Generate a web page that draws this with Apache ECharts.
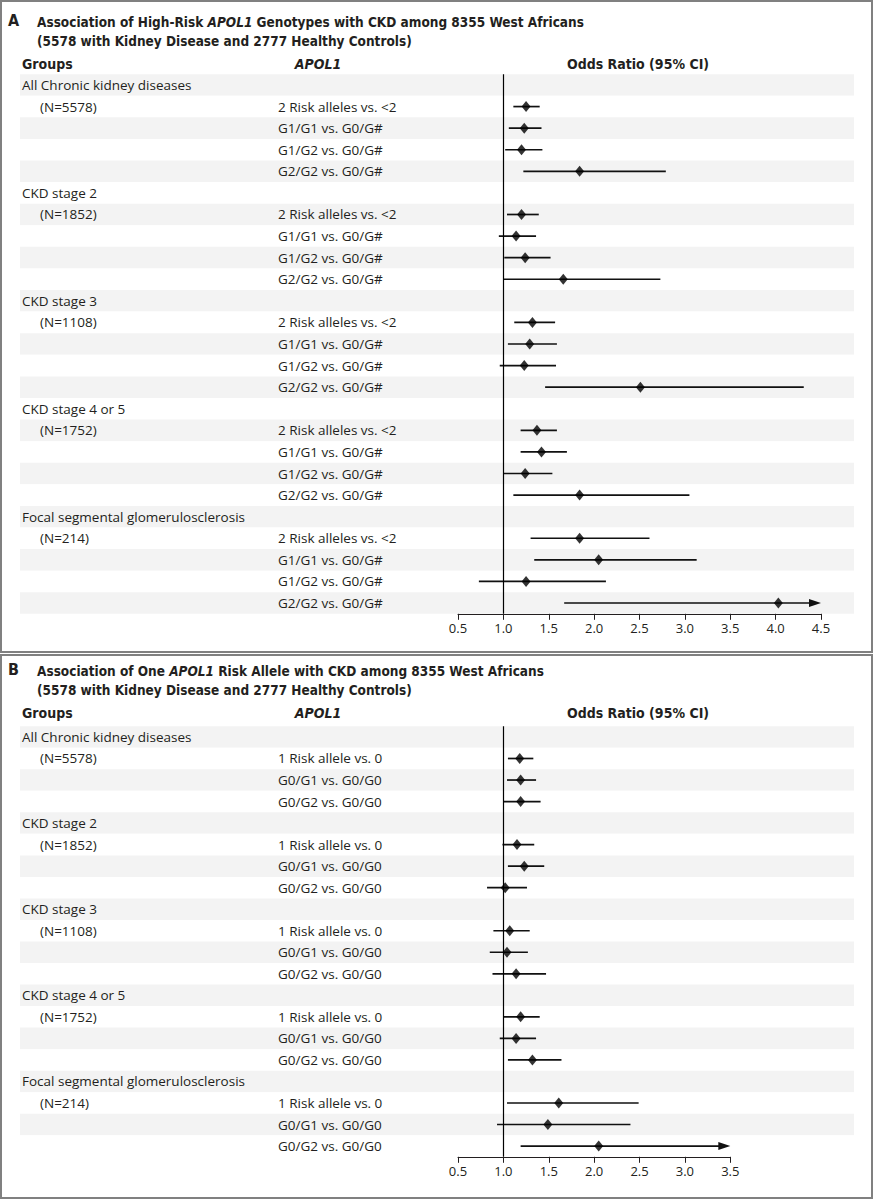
<!DOCTYPE html>
<html>
<head>
<meta charset="utf-8">
<script src="https://cdn.jsdelivr.net/npm/echarts@6/dist/echarts.min.js"></script>
<style>
html,body{margin:0;padding:0;background:#fff;}
#c{width:874px;height:1200px;}
</style>
</head>
<body>
<div id="c"></div>
<script>
// ---------- data ----------
const groups = ['All Chronic kidney diseases', 'CKD stage 2', 'CKD stage 3', 'CKD stage 4 or 5', 'Focal segmental glomerulosclerosis'];
const groupN = [5578, 1852, 1108, 1752, 214];

const compA = ['2 Risk alleles vs. <2', 'G1/G1 vs. G0/G#', 'G1/G2 vs. G0/G#', 'G2/G2 vs. G0/G#'];
const orA = [1.25, 1.23, 1.20, 1.84, 1.20, 1.14, 1.24, 1.66, 1.32, 1.29, 1.23, 2.51, 1.37, 1.42, 1.24, 1.84, 1.84, 2.05, 1.25, 4.03];
const loA = [1.11, 1.06, 1.02, 1.22, 1.04, 0.95, 1.01, 1.00, 1.12, 1.05, 0.96, 1.46, 1.19, 1.19, 1.00, 1.11, 1.30, 1.34, 0.73, 1.67];
const hiA = [1.40, 1.42, 1.43, 2.79, 1.39, 1.36, 1.52, 2.73, 1.57, 1.59, 1.58, 4.31, 1.59, 1.70, 1.54, 3.05, 2.61, 3.13, 2.13, null]; // null = beyond axis (arrow)

const compB = ['1 Risk allele vs. 0', 'G0/G1 vs. G0/G0', 'G0/G2 vs. G0/G0'];
const orB = [1.18, 1.19, 1.19, 1.15, 1.23, 1.02, 1.07, 1.04, 1.14, 1.19, 1.14, 1.32, 1.61, 1.49, 2.05];
const loB = [1.05, 1.04, 1.00, 0.99, 1.05, 0.82, 0.89, 0.85, 0.88, 1.00, 0.96, 1.05, 1.04, 0.93, 1.19];
const hiB = [1.33, 1.36, 1.41, 1.34, 1.45, 1.26, 1.29, 1.27, 1.47, 1.40, 1.36, 1.64, 2.49, 2.40, null];

const ticksA = {min: 0.5, max: 4.5, interval: 0.5};
const ticksB = {min: 0.5, max: 3.5, interval: 0.5};

const titleA1 = ['Association of High-Risk ', 'APOL1', ' Genotypes with CKD among 8355 West Africans'];
const titleB1 = ['Association of One ', 'APOL1', ' Risk Allele with CKD among 8355 West Africans'];
const title2 = '(5578 with Kidney Disease and 2777 Healthy Controls)';
const headers = ['Groups', 'APOL1', 'Odds Ratio (95% CI)'];

// ---------- build rows ----------
function buildRows(comps, or, lo, hi) {
  const rows = [];
  let k = 0;
  groups.forEach((g, gi) => {
    rows.push({group: g, n: '', comp: '', or: null});
    comps.forEach((c, ci) => {
      rows.push({group: '', n: ci === 0 ? '(N=' + groupN[gi] + ')' : '', comp: c, or: or[k], lo: lo[k], hi: hi[k]});
      k++;
    });
  });
  return rows;
}
const rowsA = buildRows(compA, orA, loA, hiA);
const rowsB = buildRows(compB, orB, loB, hiB);

// ---------- styles ----------
const INK = '#231f20';
const BODY = '"Open Sans","Noto Sans",sans-serif';
const HEAD = '"Liberation Sans Narrow","DejaVu Sans Condensed","Roboto Condensed",Roboto,sans-serif';
const BAND = '#f3f3f3';
const FS = 13.5;

const chart = echarts.init(document.getElementById('c'), null, {renderer: 'svg'});

const panels = [
  {rows: rowsA, ticks: ticksA, top: 74.2, height: 539.6, width: 363, t1: titleA1, letter: 'A', ty: 22},
  {rows: rowsB, ticks: ticksB, top: 726.2, height: 430.6, width: 272.3, t1: titleB1, letter: 'B', ty: 671}
];

const grid = [], xAxis = [], yAxis = [], series = [], graphic = [];

panels.forEach((p, pi) => {
  const cats = p.rows.map((r, i) => String(i));
  const gBg = grid.length;
  grid.push({left: 20, width: 834, top: p.top, height: p.height, containLabel: false});
  const gPl = grid.length;
  grid.push({left: 458, width: p.width, top: p.top, height: p.height, containLabel: false});

  // background grid axes
  xAxis.push({gridIndex: gBg, type: 'value', show: false});
  yAxis.push({gridIndex: gBg, type: 'category', data: cats, inverse: true, z: 0,
    axisLine: {show: false}, axisTick: {show: false}, axisLabel: {show: false},
    splitLine: {show: false},
    splitArea: {show: true, areaStyle: {color: [BAND, '#ffffff']}}});

  // plot x axis
  const xi = xAxis.length;
  xAxis.push({gridIndex: gPl, type: 'value', min: p.ticks.min, max: p.ticks.max, interval: p.ticks.interval,
    axisLine: {show: true, onZero: false, lineStyle: {color: INK, width: 1}},
    axisTick: {show: true, length: 6, lineStyle: {color: INK, width: 1}},
    splitLine: {show: false},
    axisLabel: {color: INK, fontSize: 13, fontFamily: BODY, margin: 8, formatter: v => v.toFixed(1)}});

  const yi = yAxis.length;
  // comparison labels
  yAxis.push({gridIndex: gPl, type: 'category', data: cats, inverse: true, position: 'left', z: 5,
    axisLine: {show: false}, axisTick: {show: false}, splitLine: {show: false},
    axisLabel: {interval: 0, margin: 180, align: 'left', color: INK, fontSize: FS, fontFamily: BODY,
      formatter: (v, i) => p.rows[i].comp}});
  // group labels
  yAxis.push({gridIndex: gPl, type: 'category', data: cats, inverse: true, position: 'left', z: 5,
    axisLine: {show: false}, axisTick: {show: false}, splitLine: {show: false},
    axisLabel: {interval: 0, margin: 436, align: 'left', color: INK, fontSize: FS, fontFamily: BODY,
      formatter: (v, i) => p.rows[i].group}});
  // N labels
  yAxis.push({gridIndex: gPl, type: 'category', data: cats, inverse: true, position: 'left', z: 5,
    axisLine: {show: false}, axisTick: {show: false}, splitLine: {show: false},
    axisLabel: {interval: 0, margin: 418, align: 'left', color: INK, fontSize: FS, fontFamily: BODY,
      formatter: (v, i) => p.rows[i].n}});

  const axMax = p.ticks.max;
  const ciData = [];
  const ptData = [];
  p.rows.forEach((r, i) => {
    if (r.or == null) return;
    ciData.push([r.lo, r.hi == null ? axMax : r.hi, i, r.hi == null ? 1 : 0]);
    ptData.push([r.or, i]);
  });

  series.push({
    type: 'custom', xAxisIndex: xi, yAxisIndex: yi, z: 3, silent: true, clip: false,
    encode: {x: [0, 1], y: 2},
    data: ciData,
    renderItem: (params, api) => {
      const a = api.coord([api.value(0), api.value(2)]);
      const b = api.coord([api.value(1), api.value(2)]);
      const children = [];
      const arrow = api.value(3) === 1;
      const endX = arrow ? b[0] - 10 : b[0];
      children.push({type: 'line', shape: {x1: a[0], y1: a[1], x2: endX, y2: b[1]},
        style: {stroke: '#111', lineWidth: 1.7}});
      if (arrow) {
        children.push({type: 'polygon', shape: {points: [[b[0] - 12, b[1] - 4], [b[0], b[1]], [b[0] - 12, b[1] + 4]]},
          style: {fill: '#111'}});
      }
      return {type: 'group', children};
    }
  });

  series.push({
    type: 'scatter', xAxisIndex: xi, yAxisIndex: yi, z: 4, silent: true,
    symbol: 'diamond', symbolSize: [9, 11],
    itemStyle: {color: '#000'},
    data: ptData,
    markLine: {silent: true, symbol: 'none', animation: false,
      label: {show: false},
      lineStyle: {color: '#000', width: 1.2, type: 'solid'},
      data: [{xAxis: 1}]}
  });

  // titles and headers
  const ty = p.ty;
  graphic.push({type: 'text', left: 8, top: ty - 10, style: {text: p.letter, font: 'bold 16px ' + HEAD, fill: INK}});
  graphic.push({type: 'text', x: 37, y: ty, style: {
    text: '{r|' + p.t1[0] + '}{i|' + p.t1[1] + '}{r|' + p.t1[2] + '}',
    textVerticalAlign: 'middle',
    rich: {
      r: {fontFamily: HEAD, fontWeight: 'bold', fontSize: 13.5, fill: INK},
      i: {fontFamily: HEAD, fontWeight: 'bold', fontStyle: 'italic', fontSize: 13.5, fill: INK}
    }}});
  graphic.push({type: 'text', x: 37, y: ty + 18.5, style: {text: title2, font: 'bold 13.5px ' + HEAD, fill: INK, textVerticalAlign: 'middle'}});
  const hy = ty + 42;
  graphic.push({type: 'text', x: 22, y: hy, style: {text: headers[0], font: 'bold 14px ' + HEAD, fill: INK, textVerticalAlign: 'middle'}});
  graphic.push({type: 'text', x: 318, y: hy, style: {text: headers[1], font: 'italic bold 14px ' + HEAD, fill: INK, textAlign: 'center', textVerticalAlign: 'middle'}});
  graphic.push({type: 'text', x: 638, y: hy, style: {text: headers[2], font: 'bold 14px ' + HEAD, fill: INK, textAlign: 'center', textVerticalAlign: 'middle'}});
});

// frames
graphic.push({type: 'rect', shape: {x: 1, y: 1, width: 871, height: 651}, style: {fill: 'none', stroke: '#808080', lineWidth: 2}, z: 10});
graphic.push({type: 'rect', shape: {x: 1, y: 655, width: 871, height: 543}, style: {fill: 'none', stroke: '#808080', lineWidth: 2}, z: 10});

chart.setOption({
  animation: false,
  backgroundColor: '#ffffff',
  grid, xAxis, yAxis, series, graphic
});
</script>
</body>
</html>
